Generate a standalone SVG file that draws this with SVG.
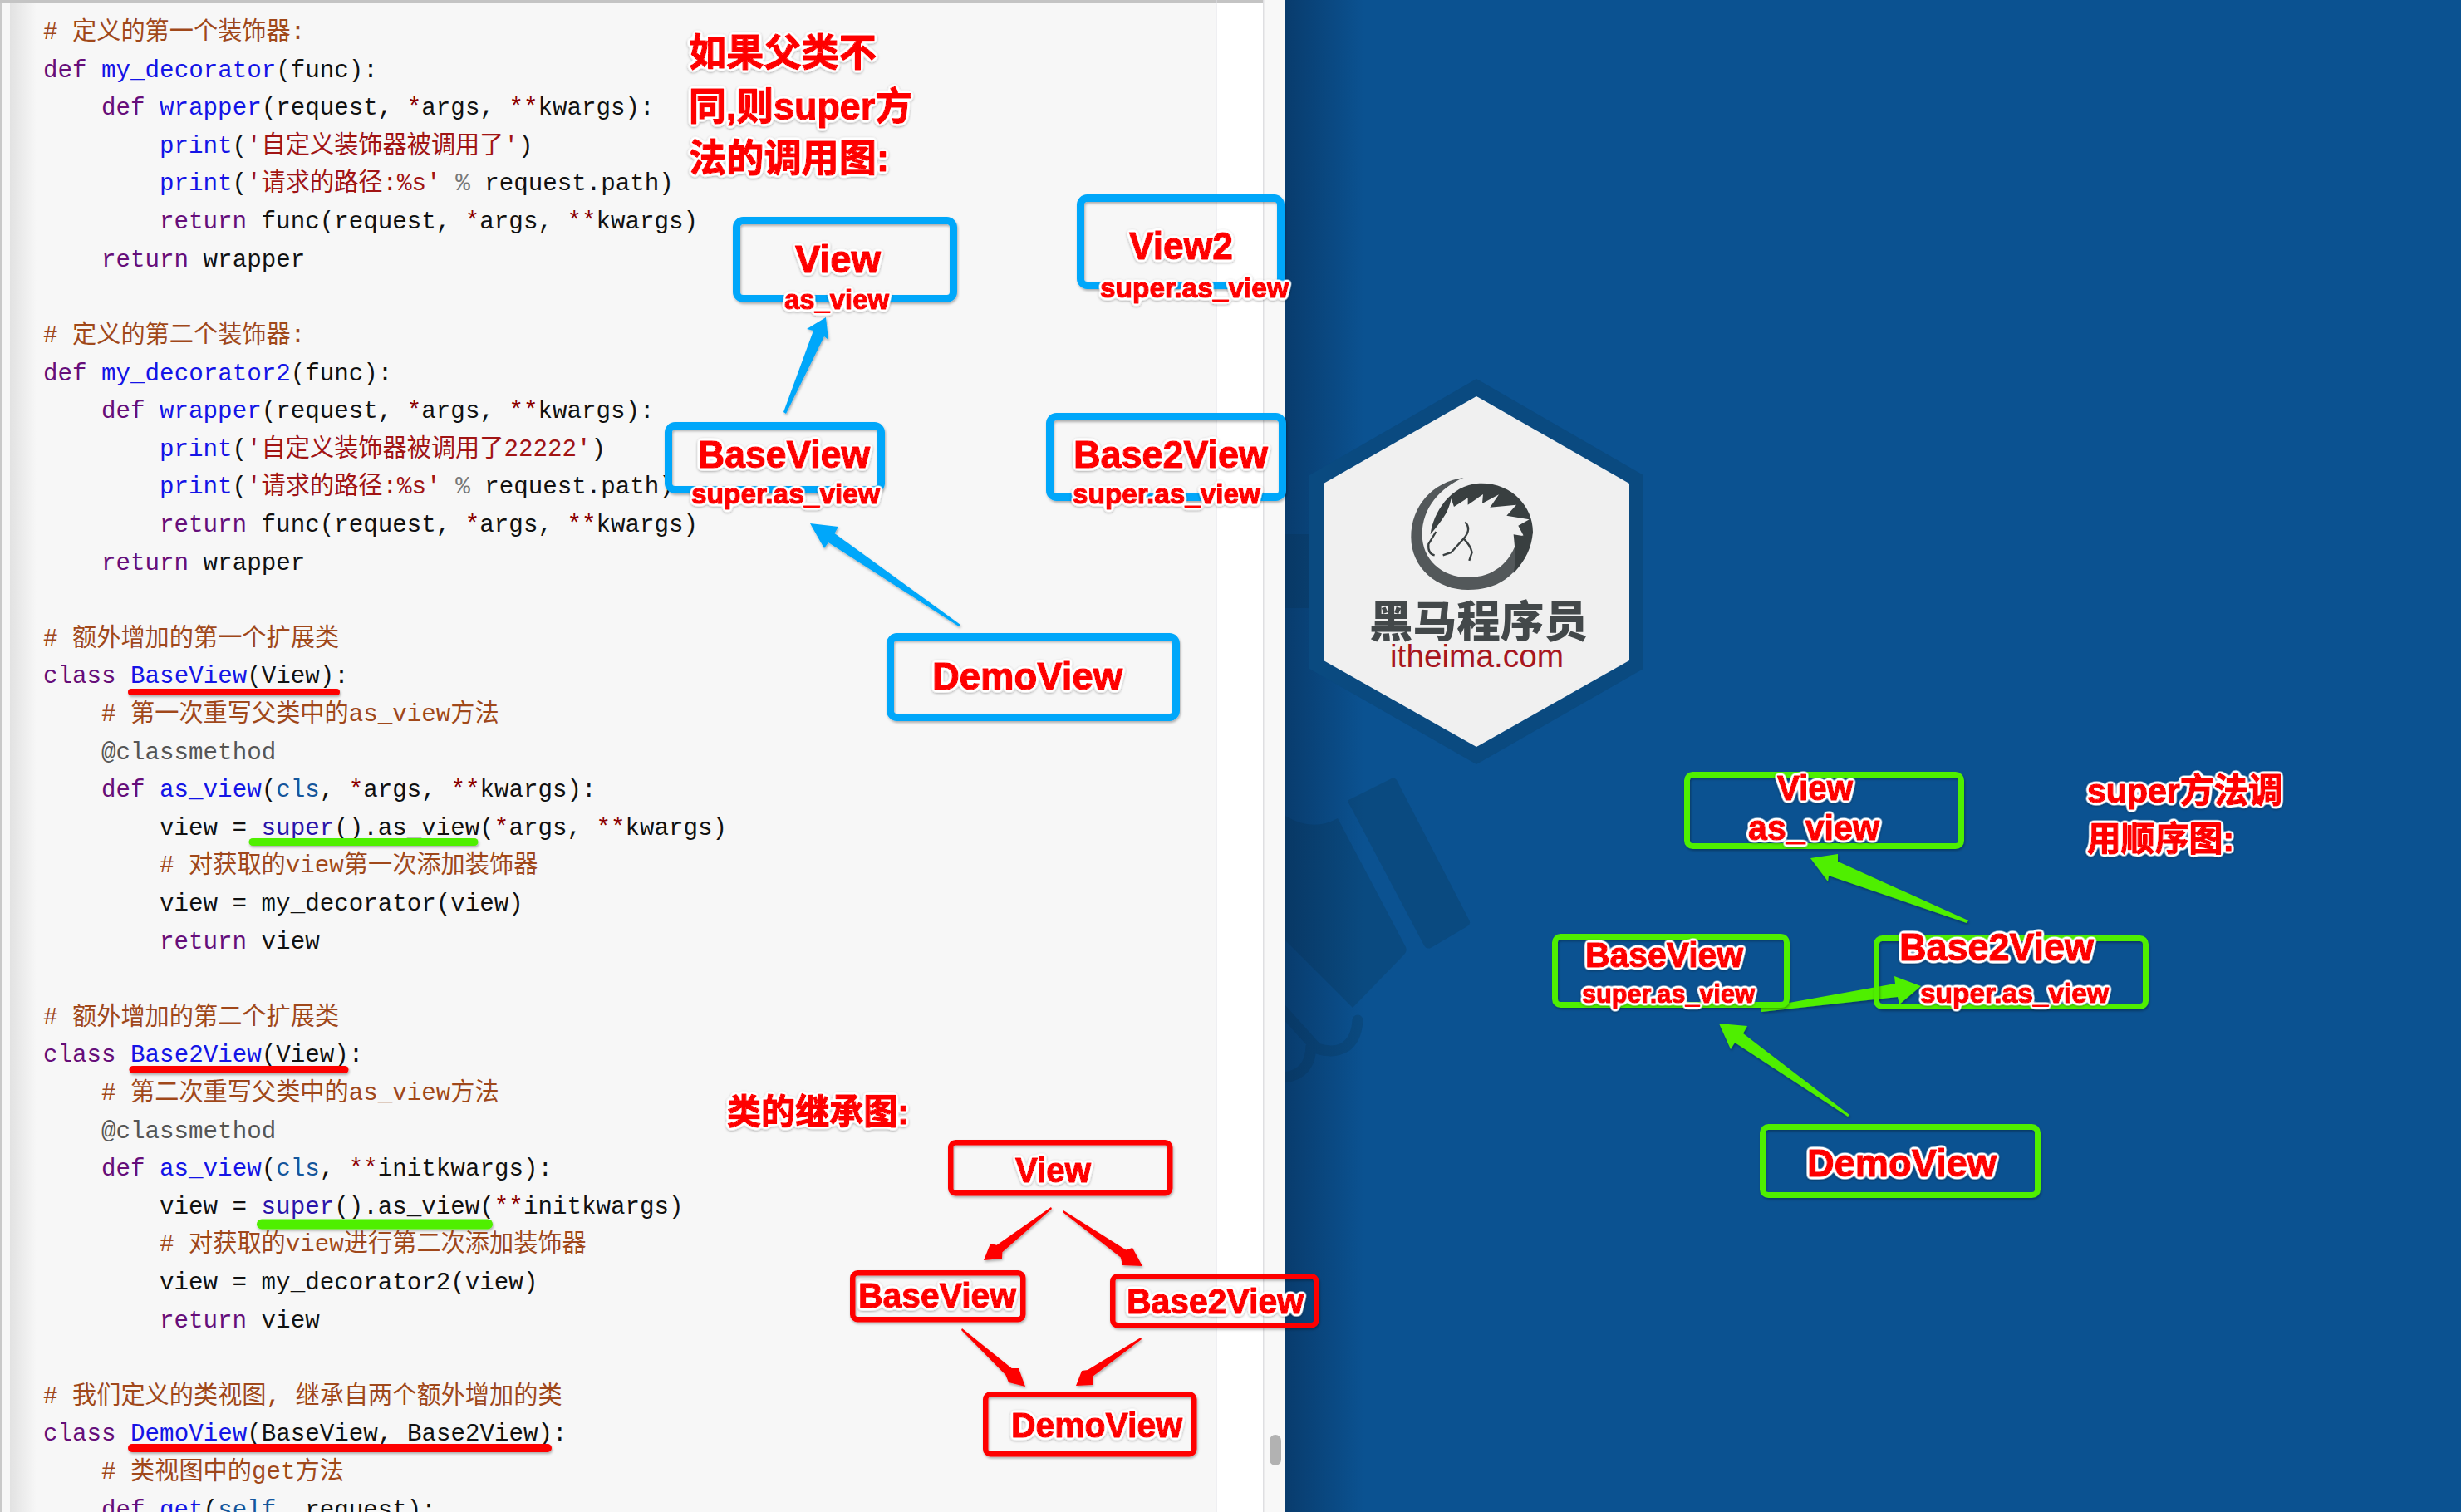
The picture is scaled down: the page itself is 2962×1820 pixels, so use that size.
<svg xmlns="http://www.w3.org/2000/svg" width="2962" height="1820" viewBox="0 0 2962 1820">
<style>
.code{font-family:"Liberation Mono","Noto Sans CJK SC",monospace;font-size:29.2px;fill:#111;white-space:pre}
.k{fill:#660e7a}.f{fill:#1414e6}.c{fill:#a0481a}.s{fill:#a11414}.o{fill:#8b0000}.p{fill:#777}.d{fill:#555}.v{fill:#14569c}.u{fill:#2a14aa}
.lab{font-family:"Liberation Sans","Noto Sans CJK SC",sans-serif;font-weight:700;fill:#fe0000;stroke:#fe0000;stroke-width:1.4px;stroke-linejoin:round;filter:url(#ts)}
.bb{fill:none;stroke:#00a7fa;stroke-width:9;filter:url(#bs)}
.gb{fill:none;stroke:#50ef00;stroke-width:7;filter:url(#bs)}
.rb{fill:none;stroke:#fe0000;stroke-width:6.5;filter:url(#bs)}
.ba{fill:#00a7fa;filter:url(#bs)}.ga{fill:#50ef00;filter:url(#bs)}.ra{fill:#fe0000;filter:url(#bs)}
.dk{fill:#0a4a80}
</style>
<defs>
<filter id="bs" x="-10%" y="-10%" width="120%" height="130%"><feDropShadow dx="1" dy="2" stdDeviation="1.5" flood-color="#000" flood-opacity=".3"/></filter>
<filter id="ts" x="-10%" y="-25%" width="120%" height="150%">
<feGaussianBlur in="SourceAlpha" stdDeviation="2.2" result="b"/>
<feComponentTransfer in="b" result="th"><feFuncA type="linear" slope="9" intercept="-.35"/></feComponentTransfer>
<feFlood flood-color="#fff"/><feComposite in2="th" operator="in" result="halo"/>
<feDropShadow in="halo" dx="0" dy="1" stdDeviation="1.5" flood-color="#000" flood-opacity=".35" result="hs"/>
<feMerge><feMergeNode in="hs"/><feMergeNode in="SourceGraphic"/></feMerge>
</filter>
<linearGradient id="edge" x1="0" x2="1" y1="0" y2="0"><stop offset="0" stop-color="#06264a" stop-opacity=".5"/><stop offset="1" stop-color="#06264a" stop-opacity="0"/></linearGradient>
<linearGradient id="lft" x1="0" x2="1" y1="0" y2="0"><stop offset="0" stop-color="#e2e2e2"/><stop offset="1" stop-color="#f7f7f7"/></linearGradient>
<clipPath id="right"><rect x="1547" y="0" width="1415" height="1820"/></clipPath>
</defs>

<g id="page">
<rect x="0" y="0" width="1548" height="1820" fill="#fff"/>
<rect x="0" y="0" width="1464" height="1820" fill="#f7f7f7"/>
<rect x="12" y="0" width="32" height="1820" fill="url(#lft)"/>
<rect x="0" y="0" width="2" height="1820" fill="#c9c9c9"/>
<rect x="0" y="0" width="1548" height="4" fill="#c4c4c4"/>
<rect x="1463" y="0" width="1.5" height="1820" fill="#dfe0e6"/>
<rect x="1521" y="0" width="27" height="1820" fill="#f8f8f8"/>
<rect x="1520" y="0" width="1.5" height="1820" fill="#dfdfe2"/>
<rect x="1528" y="1727" width="14" height="37" rx="7" fill="#b2b2b2"/>
<rect x="1547" y="0" width="1415" height="1820" fill="#0b5291"/>
<g clip-path="url(#right)">
<path class="dk" d="M1547,643H1576V732H1547Z"/>
<path class="dk" d="M1623,963L1675,937Q1680,936 1682,941L1768,1107Q1771,1112 1766,1115L1722,1141Q1717,1143 1714,1138L1625,970Q1622,965 1623,963Z"/>
<path class="dk" d="M1547,982Q1580,1002 1610,985L1692,1140Q1694,1145 1690,1149L1628,1213L1547,1132Z"/>
<path d="M1634,1228C1632,1262 1610,1270 1585,1262L1540,1212" fill="none" stroke="#0a4a80" stroke-width="13" stroke-linecap="round"/>
<path d="M1578,1258C1578,1280 1568,1297 1540,1297" fill="none" stroke="#0a4a80" stroke-width="13"/>
</g>
<rect x="1547" y="0" width="95" height="1820" fill="url(#edge)"/>
</g>

<g id="logo">
<polygon class="dk" points="1777,456 1978,572 1978,805 1777,920 1576,805 1576,572"/>
<polygon fill="#f0f0f0" points="1777,477 1961,582 1961,795 1777,899 1593,795 1593,582"/>
<g transform="translate(1550,440) scale(.3333)">
<path fill="#53585a" d="M635,405C520,420 445,510 445,620C445,730 540,810 650,810C770,810 850,750 885,600L830,620C815,690 760,765 650,765C555,765 485,700 485,610C485,515 550,440 635,405Z"/>
<path fill="#393f40" d="M515,610C525,530 590,425 700,425C810,425 885,510 885,600C880,660 860,700 815,750C825,700 820,660 815,610L852,616L832,578L872,556L790,542L825,503L730,512L762,466L702,498L705,465L650,503L650,478L600,510L590,480C580,530 560,555 515,610Z"/>
<path fill="none" stroke="#393f40" stroke-width="7" d="M535,600L508,645Q505,680 530,685M640,565Q665,590 635,625L590,675L560,685M635,625Q660,650 665,675L655,705"/>
</g>
<text x="1648" y="767" font-family="Noto Sans CJK SC,sans-serif" font-weight="900" font-size="52" fill="#43484a" textLength="263" lengthAdjust="spacingAndGlyphs">黑马程序员</text>
<text x="1673" y="803" font-family="Liberation Sans,sans-serif" font-size="38" fill="#a8161f" textLength="209" lengthAdjust="spacingAndGlyphs">itheima.com</text>
</g>

<g id="code">
<text class="code" y="47" x="52"><tspan class="c"># 定义的第一个装饰器:</tspan></text>
<text class="code" y="93" x="52"><tspan class="k">def</tspan> <tspan class="f">my_decorator</tspan>(func):</text>
<text class="code" y="138" x="122"><tspan class="k">def</tspan> <tspan class="f">wrapper</tspan>(request, <tspan class="o">*</tspan>args, <tspan class="o">**</tspan>kwargs):</text>
<text class="code" y="184" x="192"><tspan class="f">print</tspan>(<tspan class="s">'自定义装饰器被调用了'</tspan>)</text>
<text class="code" y="229" x="192"><tspan class="f">print</tspan>(<tspan class="s">'请求的路径:%s'</tspan> <tspan class="p">%</tspan> request.path)</text>
<text class="code" y="275" x="192"><tspan class="k">return</tspan> func(request, <tspan class="o">*</tspan>args, <tspan class="o">**</tspan>kwargs)</text>
<text class="code" y="321" x="122"><tspan class="k">return</tspan> wrapper</text>
<text class="code" y="412" x="52"><tspan class="c"># 定义的第二个装饰器:</tspan></text>
<text class="code" y="458" x="52"><tspan class="k">def</tspan> <tspan class="f">my_decorator2</tspan>(func):</text>
<text class="code" y="503" x="122"><tspan class="k">def</tspan> <tspan class="f">wrapper</tspan>(request, <tspan class="o">*</tspan>args, <tspan class="o">**</tspan>kwargs):</text>
<text class="code" y="549" x="192"><tspan class="f">print</tspan>(<tspan class="s">'自定义装饰器被调用了22222'</tspan>)</text>
<text class="code" y="594" x="192"><tspan class="f">print</tspan>(<tspan class="s">'请求的路径:%s'</tspan> <tspan class="p">%</tspan> request.path)</text>
<text class="code" y="640" x="192"><tspan class="k">return</tspan> func(request, <tspan class="o">*</tspan>args, <tspan class="o">**</tspan>kwargs)</text>
<text class="code" y="686" x="122"><tspan class="k">return</tspan> wrapper</text>
<text class="code" y="777" x="52"><tspan class="c"># 额外增加的第一个扩展类</tspan></text>
<text class="code" y="822" x="52"><tspan class="k">class</tspan> <tspan class="f">BaseView</tspan>(View):</text>
<text class="code" y="868" x="122"><tspan class="c"># 第一次重写父类中的as_view方法</tspan></text>
<text class="code" y="914" x="122"><tspan class="d">@classmethod</tspan></text>
<text class="code" y="959" x="122"><tspan class="k">def</tspan> <tspan class="f">as_view</tspan>(<tspan class="v">cls</tspan>, <tspan class="o">*</tspan>args, <tspan class="o">**</tspan>kwargs):</text>
<text class="code" y="1005" x="192">view = <tspan class="u">super</tspan>().as_view(<tspan class="o">*</tspan>args, <tspan class="o">**</tspan>kwargs)</text>
<text class="code" y="1050" x="192"><tspan class="c"># 对获取的view第一次添加装饰器</tspan></text>
<text class="code" y="1096" x="192">view = my_decorator(view)</text>
<text class="code" y="1142" x="192"><tspan class="k">return</tspan> view</text>
<text class="code" y="1233" x="52"><tspan class="c"># 额外增加的第二个扩展类</tspan></text>
<text class="code" y="1278" x="52"><tspan class="k">class</tspan> <tspan class="f">Base2View</tspan>(View):</text>
<text class="code" y="1324" x="122"><tspan class="c"># 第二次重写父类中的as_view方法</tspan></text>
<text class="code" y="1370" x="122"><tspan class="d">@classmethod</tspan></text>
<text class="code" y="1415" x="122"><tspan class="k">def</tspan> <tspan class="f">as_view</tspan>(<tspan class="v">cls</tspan>, <tspan class="o">**</tspan>initkwargs):</text>
<text class="code" y="1461" x="192">view = <tspan class="u">super</tspan>().as_view(<tspan class="o">**</tspan>initkwargs)</text>
<text class="code" y="1506" x="192"><tspan class="c"># 对获取的view进行第二次添加装饰器</tspan></text>
<text class="code" y="1552" x="192">view = my_decorator2(view)</text>
<text class="code" y="1598" x="192"><tspan class="k">return</tspan> view</text>
<text class="code" y="1689" x="52"><tspan class="c"># 我们定义的类视图, 继承自两个额外增加的类</tspan></text>
<text class="code" y="1734" x="52"><tspan class="k">class</tspan> <tspan class="f">DemoView</tspan>(BaseView, Base2View):</text>
<text class="code" y="1780" x="122"><tspan class="c"># 类视图中的get方法</tspan></text>
<text class="code" y="1826" x="122"><tspan class="k">def</tspan> <tspan class="f">get</tspan>(<tspan class="v">self</tspan>, request):</text>
</g>

<g id="underlines" stroke-linecap="round" fill="none" filter="url(#bs)">
<path d="M158,833H405" stroke="#fe0000" stroke-width="8"/>
<path d="M304,1013.500H571" stroke="#50ef00" stroke-width="9"/>
<path d="M160,1287.500H415" stroke="#fe0000" stroke-width="9"/>
<path d="M315,1473.500H587" stroke="#50ef00" stroke-width="12"/>
<path d="M159,1743H659" stroke="#fe0000" stroke-width="10"/>
</g>

<g id="connectors">
<polygon class="ba" points="943,496 979,398 971,396 994,382 997,409 992,405 946,498"/>
<polygon class="ba" points="975,630 1009,634 1004.500,642 1156,752 1154,754 997,653 992,660"/>
<polygon class="ga" points="2179,1033 2212,1028 2212,1037 2369,1108 2367,1111 2201,1054 2200,1061"/>
<polygon class="ga" points="2120,1213 2281,1184 2280,1175 2312,1187 2286,1209 2284,1200 2120,1218"/>
<polygon class="ga" points="2069,1232 2103,1235 2098,1244 2226,1342 2224,1344 2088,1255 2083,1263"/>
<polygon class="ra" points="1265,1453 1199.600,1498.700 1192,1497 1184,1517 1206,1515 1206.400,1507.300 1266,1455"/>
<polygon class="ra" points="1280,1457 1355.200,1504.500 1363,1502 1375,1524 1351,1523 1348.800,1513.500 1279,1459"/>
<polygon class="ra" points="1158,1599 1217.700,1647 1226,1647 1234,1669 1214,1664 1210.300,1655 1157,1601"/>
<polygon class="ra" points="1373,1610 1309,1649 1302,1650 1295,1668 1315,1667 1315,1657 1374,1612"/>
</g>

<g id="title-blue">
<text class="lab" font-size="46" x="829" y="79" textLength="226" lengthAdjust="spacingAndGlyphs">如果父类不</text>
<text class="lab" font-size="46" x="829" y="144" textLength="269" lengthAdjust="spacingAndGlyphs">同,则super方</text>
<text class="lab" font-size="46" x="829" y="206" textLength="241" lengthAdjust="spacingAndGlyphs">法的调用图:</text>
</g>
<g id="blue-view"><rect class="bb" x="886.500" y="265.500" width="261" height="94" rx="8"/>
<text class="lab" font-size="46" x="957" y="328" textLength="103" lengthAdjust="spacingAndGlyphs">View</text>
<text class="lab" font-size="33" x="944" y="372" textLength="126" lengthAdjust="spacingAndGlyphs">as_view</text></g>
<g id="blue-view2"><rect class="bb" x="1300.500" y="238.500" width="241" height="105" rx="8"/>
<text class="lab" font-size="46" x="1359" y="312" textLength="125" lengthAdjust="spacingAndGlyphs">View2</text>
<text class="lab" font-size="33" x="1324" y="358" textLength="227" lengthAdjust="spacingAndGlyphs">super.as_view</text></g>
<g id="blue-baseview"><rect class="bb" x="804.500" y="512.500" width="256" height="77" rx="8"/>
<text class="lab" font-size="46" x="840" y="563" textLength="207" lengthAdjust="spacingAndGlyphs">BaseView</text>
<text class="lab" font-size="33" x="832" y="606" textLength="227" lengthAdjust="spacingAndGlyphs">super.as_view</text></g>
<g id="blue-base2view"><rect class="bb" x="1263.500" y="501.500" width="280" height="97" rx="8"/>
<text class="lab" font-size="46" x="1292" y="563" textLength="234" lengthAdjust="spacingAndGlyphs">Base2View</text>
<text class="lab" font-size="33" x="1291" y="606" textLength="226" lengthAdjust="spacingAndGlyphs">super.as_view</text></g>
<g id="blue-demoview"><rect class="bb" x="1071.500" y="766.500" width="344" height="97" rx="8"/>
<text class="lab" font-size="46" x="1122" y="830" textLength="229" lengthAdjust="spacingAndGlyphs">DemoView</text></g>

<g id="title-red"><text class="lab" font-size="42" x="875" y="1353" textLength="219" lengthAdjust="spacingAndGlyphs">类的继承图:</text></g>
<g id="red-view"><rect class="rb" x="1144.250" y="1375.250" width="264" height="61" rx="6"/>
<text class="lab" font-size="42" x="1222" y="1423" textLength="91" lengthAdjust="spacingAndGlyphs">View</text></g>
<g id="red-baseview"><rect class="rb" x="1026.250" y="1532.250" width="205" height="56" rx="6"/>
<text class="lab" font-size="42" x="1033" y="1574" textLength="190" lengthAdjust="spacingAndGlyphs">BaseView</text></g>
<g id="red-base2view"><rect class="rb" x="1339.250" y="1536.250" width="245" height="59" rx="6"/>
<text class="lab" font-size="42" x="1356" y="1581" textLength="213" lengthAdjust="spacingAndGlyphs">Base2View</text></g>
<g id="red-demoview"><rect class="rb" x="1186.250" y="1678.250" width="251" height="72" rx="6"/>
<text class="lab" font-size="42" x="1217" y="1730" textLength="206" lengthAdjust="spacingAndGlyphs">DemoView</text></g>

<g id="title-green">
<text class="lab" font-size="41" x="2512" y="966" textLength="235" lengthAdjust="spacingAndGlyphs">super方法调</text>
<text class="lab" font-size="41" x="2512" y="1024" textLength="177" lengthAdjust="spacingAndGlyphs">用顺序图:</text>
</g>
<g id="green-view"><rect class="gb" x="2030.500" y="932.500" width="330" height="86" rx="7"/>
<text class="lab" font-size="42" x="2139" y="963" textLength="91" lengthAdjust="spacingAndGlyphs">View</text>
<text class="lab" font-size="42" x="2104" y="1011" textLength="158" lengthAdjust="spacingAndGlyphs">as_view</text></g>
<g id="green-baseview"><rect class="gb" x="1871.500" y="1127.500" width="279" height="82" rx="7"/>
<text class="lab" font-size="42" x="1908" y="1164" textLength="190" lengthAdjust="spacingAndGlyphs">BaseView</text>
<text class="lab" font-size="32" x="1904" y="1207" textLength="208" lengthAdjust="spacingAndGlyphs">super.as_view</text></g>
<g id="green-base2view"><rect class="gb" x="2258.500" y="1129.500" width="324" height="82" rx="7"/>
<text class="lab" font-size="46" x="2286" y="1156" textLength="234" lengthAdjust="spacingAndGlyphs">Base2View</text>
<text class="lab" font-size="34" x="2311" y="1207" textLength="227" lengthAdjust="spacingAndGlyphs">super.as_view</text></g>
<g id="green-demoview"><rect class="gb" x="2121.500" y="1356.500" width="331" height="82" rx="7"/>
<text class="lab" font-size="46" x="2175" y="1416" textLength="228" lengthAdjust="spacingAndGlyphs">DemoView</text></g>
</svg>
